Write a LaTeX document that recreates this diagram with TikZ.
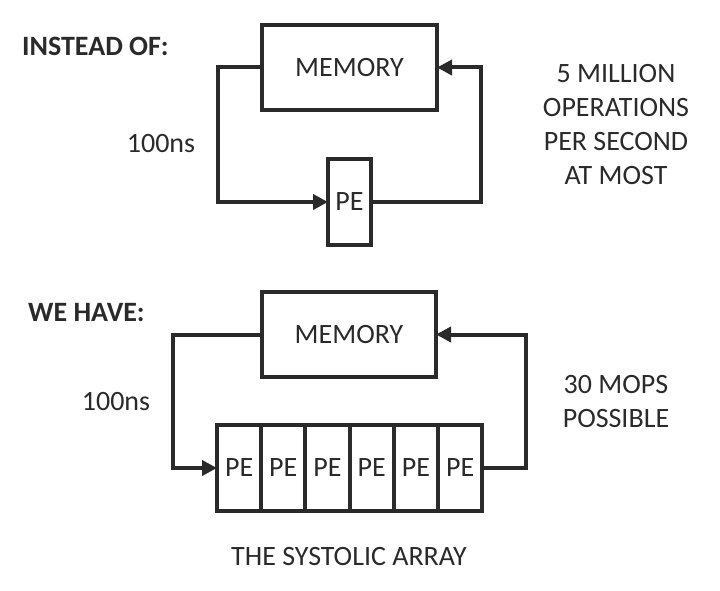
\documentclass[tikz,border=0pt]{standalone}
\usepackage{fontspec}
\setmainfont{Carlito}
\usetikzlibrary{arrows.meta, positioning}

\definecolor{inkgray}{HTML}{2A2A2A}
\newcommand{\bigtxt}{\fontsize{28}{34}\selectfont}

\tikzset{
  box/.style={draw=inkgray, line width=4pt, outer sep=0pt, inner sep=0pt, text=inkgray, font=\bigtxt},
  cell/.style={box, minimum width=44.2pt, minimum height=86pt},
  flow/.style={draw=inkgray, line width=4pt, -{Triangle[length=15pt, width=15pt]}},
  label/.style={text=inkgray, font=\bigtxt, inner sep=0pt}
}

\begin{document}
\begin{tikzpicture}[x=1pt, y=-1pt]
  \useasboundingbox (0,0) rectangle (720,591);

  % ===== INSTEAD OF =====
  \node[label, font=\bigtxt\bfseries, anchor=west] (head1) at (22,46) {INSTEAD OF:};
  \node[box, minimum width=175pt, minimum height=85pt] (mem1) at (349.5,67.5) {MEMORY};
  \node[cell, minimum width=43pt] (pe1) at (349.5,202) {PE};

  % Verbindungen
  \draw[flow] (mem1.west) -- ++(-44,0) |- (pe1.west);
  \draw[flow] (pe1.east) -- ++(110,0) |- (mem1.east);

  \node[label] (lat1) at (161,144) {100ns};
  \node[label, align=center] (rate1) at (616,124.5) {5 MILLION\\OPERATIONS\\PER SECOND\\AT MOST};

  % ===== WE HAVE =====
  \node[label, font=\bigtxt\bfseries, anchor=west] (head2) at (28,313) {WE HAVE:};
  \node[box, minimum width=174pt, minimum height=85pt] (mem2) at (349,334.5) {MEMORY};

  % Reihe der PEs
  \node[cell] (c1) at (239.1,468) {PE};
  \foreach \i [evaluate=\i as \j using int(\i-1)] in {2,...,6}
    \node[cell, right=0pt of c\j] (c\i) {PE};

  \draw[flow] (mem2.west) -- ++(-89,0) |- (c1.west);
  \draw[flow] (c6.east) -- ++(44,0) |- (mem2.east);

  \node[label] (lat2) at (116,402) {100ns};
  \node[label, align=center] (rate2) at (616,401.5) {30 MOPS\\POSSIBLE};

  \node[label] (title) at (349,557) {THE SYSTOLIC ARRAY};
\end{tikzpicture}
\end{document}
